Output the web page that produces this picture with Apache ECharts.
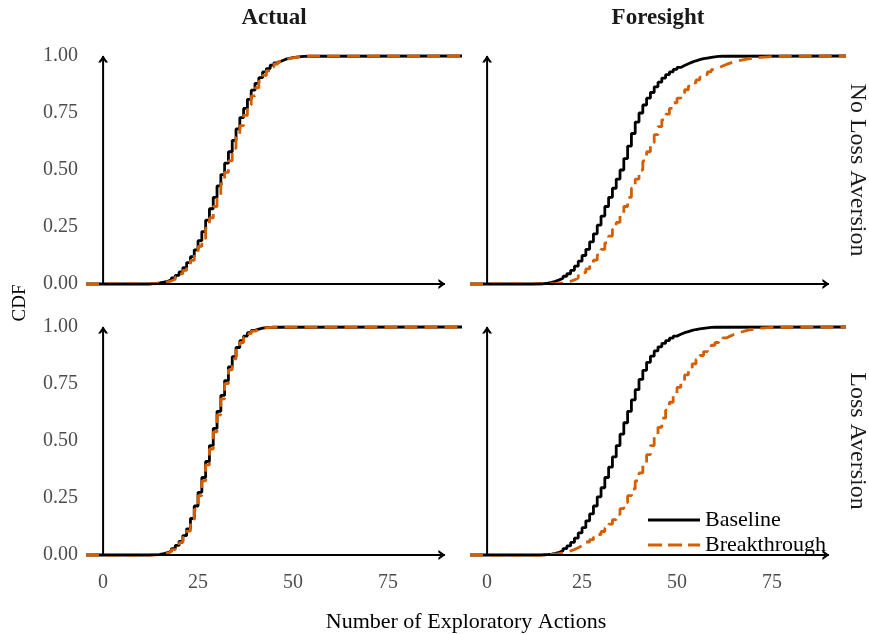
<!DOCTYPE html>
<html>
<head>
<meta charset="utf-8">
<script src="https://cdn.jsdelivr.net/npm/echarts@6/dist/echarts.min.js"></script>
<style>
  html, body { margin: 0; padding: 0; background: #ffffff; }
  #chart { width: 869px; height: 634px; }
</style>
</head>
<body>
<div id="chart"></div>
<script>
// ---- data (ECDF values at integer numbers of exploratory actions, starting at xStart) ----
const xStart = 12;
const xMin = -4.5, xMax = 94.5;
const xTicks = [0, 25, 50, 75];
const yTicks = [0, 0.25, 0.5, 0.75, 1];
const columnTitles = ['Actual', 'Foresight'];
const rowTitles = ['No Loss Aversion', 'Loss Aversion'];
const seriesNames = ['Baseline', 'Breakthrough'];

const actualNoLABaseline = [0.002,0.003,0.005,0.008,0.012,0.018,0.027,0.038,0.053,0.072,0.094,0.12,0.15,0.19,0.23,0.28,0.33,0.38,0.43,0.48,0.53,0.58,0.63,0.68,0.73,0.77,0.81,0.85,0.88,0.905,0.93,0.945,0.96,0.97,0.978,0.985,0.99,0.993,0.995,0.997,0.998,0.999,1.0];
const actualNoLABreakthrough = [0.001,0.002,0.004,0.006,0.009,0.014,0.021,0.031,0.044,0.06,0.08,0.104,0.132,0.165,0.2,0.245,0.29,0.34,0.39,0.44,0.49,0.54,0.595,0.645,0.695,0.74,0.785,0.825,0.86,0.89,0.915,0.935,0.952,0.965,0.975,0.983,0.988,0.992,0.995,0.997,0.998,0.999,1.0];
const foresightNoLABaseline = [0.001,0.001,0.002,0.004,0.007,0.012,0.018,0.025,0.034,0.045,0.06,0.078,0.1,0.125,0.152,0.185,0.22,0.258,0.298,0.34,0.38,0.42,0.46,0.5,0.55,0.605,0.66,0.71,0.75,0.785,0.815,0.84,0.865,0.885,0.903,0.918,0.93,0.941,0.95,0.958,0.966,0.973,0.979,0.984,0.988,0.991,0.994,0.996,0.998,0.999,1.0];
const foresightNoLABreakthrough = [0,0,0,0,0.001,0.002,0.003,0.005,0.008,0.012,0.018,0.026,0.037,0.05,0.066,0.085,0.105,0.128,0.152,0.18,0.21,0.24,0.27,0.305,0.34,0.38,0.42,0.46,0.5,0.54,0.58,0.62,0.655,0.69,0.72,0.745,0.77,0.795,0.815,0.835,0.852,0.868,0.882,0.895,0.907,0.918,0.93,0.94,0.948,0.956,0.963,0.969,0.974,0.978,0.982,0.985,0.988,0.99,0.992,0.994,0.995,0.996,0.997,0.998,0.998,0.999,0.999,0.999,1.0];
const actualLABaseline = [0.001,0.002,0.003,0.006,0.01,0.018,0.028,0.042,0.06,0.085,0.115,0.16,0.215,0.275,0.34,0.41,0.48,0.555,0.63,0.7,0.765,0.825,0.87,0.91,0.94,0.96,0.975,0.985,0.991,0.995,0.997,0.998,0.999,1.0];
const actualLABreakthrough = [0.001,0.001,0.002,0.005,0.008,0.015,0.024,0.037,0.054,0.077,0.105,0.148,0.2,0.26,0.325,0.395,0.465,0.54,0.615,0.685,0.752,0.812,0.86,0.9,0.932,0.955,0.971,0.982,0.989,0.994,0.996,0.998,0.999,1.0];
const foresightLABaseline = [0,0,0.001,0.002,0.004,0.007,0.012,0.019,0.028,0.04,0.055,0.074,0.097,0.12,0.15,0.18,0.215,0.255,0.295,0.34,0.385,0.43,0.48,0.53,0.58,0.63,0.68,0.725,0.77,0.81,0.845,0.872,0.895,0.913,0.928,0.94,0.951,0.96,0.968,0.975,0.98,0.985,0.989,0.992,0.994,0.996,0.998,0.999,1.0];
const foresightLABreakthrough = [0,0,0,0.001,0.002,0.004,0.006,0.009,0.013,0.018,0.024,0.032,0.04,0.048,0.057,0.067,0.078,0.09,0.103,0.118,0.135,0.155,0.178,0.203,0.23,0.26,0.29,0.325,0.36,0.4,0.44,0.48,0.52,0.56,0.6,0.635,0.67,0.705,0.735,0.763,0.79,0.815,0.838,0.858,0.875,0.892,0.907,0.92,0.932,0.943,0.952,0.96,0.967,0.973,0.978,0.983,0.987,0.99,0.993,0.995,0.996,0.997,0.998,0.998,0.999,0.999,1.0];

// panel order: top-left, top-right, bottom-left, bottom-right
const panelBaseline = [actualNoLABaseline, foresightNoLABaseline, actualLABaseline, foresightLABaseline];
const panelBreakthrough = [actualNoLABreakthrough, foresightNoLABreakthrough, actualLABreakthrough, foresightLABreakthrough];

// ---- styling ----
const FONT = 'Liberation Serif';
const BLACK = '#000000';
const ORANGE = '#D55E00';
const TICK_GREY = '#4D4D4D';

function toSteps(values) {
  const pts = [[xMin, 0]];
  values.forEach((v, i) => pts.push([xStart + i, v]));
  pts.push([xMax, 1]);
  return pts;
}

const gridLeft = [86, 470];
const gridTop = [44.6, 315.6];
const gridW = 376, gridH = 250.8;

const grids = [], xAxes = [], yAxes = [], series = [];
const arrowRight = 'path://M0,0 L10,5 L0,10 L0,7.4 L4.8,5 L0,2.6 Z';
const arrowUp = 'path://M0,10 L5,0 L10,10 L7.4,10 L5,5.2 L2.6,10 Z';

for (let p = 0; p < 4; p++) {
  const col = p % 2, row = Math.floor(p / 2);
  grids.push({ left: gridLeft[col], top: gridTop[row], width: gridW, height: gridH, containLabel: false });
  xAxes.push({
    type: 'value', gridIndex: p, min: xMin, max: xMax,
    axisLine: { show: false }, axisTick: { show: false }, splitLine: { show: false },
    axisLabel: {
      show: row === 1, customValues: xTicks, margin: 6,
      fontFamily: FONT, fontSize: 20, color: TICK_GREY
    }
  });
  yAxes.push({
    type: 'value', gridIndex: p, min: -0.05, max: 1.05,
    axisLine: { show: false }, axisTick: { show: false }, splitLine: { show: false },
    axisLabel: {
      show: col === 0, customValues: yTicks, margin: 8,
      fontFamily: FONT, fontSize: 20, color: TICK_GREY,
      formatter: v => v.toFixed(2)
    }
  });
  series.push({
    name: seriesNames[0], type: 'line', xAxisIndex: p, yAxisIndex: p,
    data: toSteps(panelBaseline[p]), step: 'end', symbol: 'none', showSymbol: false,
    lineStyle: { color: BLACK, width: 2.8, type: 'solid' }, itemStyle: { color: BLACK },
    silent: true, animation: false, z: 2
  });
  series.push({
    name: seriesNames[1], type: 'line', xAxisIndex: p, yAxisIndex: p,
    data: toSteps(panelBreakthrough[p]), step: 'end', symbol: 'none', showSymbol: false,
    lineStyle: { color: ORANGE, width: 2.8, type: [13, 7] }, itemStyle: { color: ORANGE },
    silent: true, animation: false, z: 3
  });
  // arrow axes
  series.push({
    name: 'xArrow' + p, type: 'line', xAxisIndex: p, yAxisIndex: p,
    data: [
      { value: [0, 0], symbol: 'none' },
      { value: [90, 0], symbol: arrowRight, symbolSize: [7, 10], symbolOffset: [-3, 0] }
    ],
    showSymbol: true, lineStyle: { color: BLACK, width: 2 }, itemStyle: { color: BLACK },
    silent: true, animation: false, z: 5
  });
  series.push({
    name: 'yArrow' + p, type: 'line', xAxisIndex: p, yAxisIndex: p,
    data: [
      { value: [0, 0], symbol: 'none' },
      { value: [0, 1], symbol: arrowUp, symbolSize: [10, 7], symbolOffset: [0, 3] }
    ],
    showSymbol: true, lineStyle: { color: BLACK, width: 2 }, itemStyle: { color: BLACK },
    silent: true, animation: false, z: 5
  });
}

const textFont = (size, weight) => (weight || 'normal') + ' ' + size + 'px "' + FONT + '"';

const graphic = [
  { type: 'text', x: 274, y: 18, style: { text: columnTitles[0], font: textFont(23, 'bold'), fill: '#1A1A1A', textAlign: 'center', textVerticalAlign: 'middle' } },
  { type: 'text', x: 658, y: 18, style: { text: columnTitles[1], font: textFont(23, 'bold'), fill: '#1A1A1A', textAlign: 'center', textVerticalAlign: 'middle' } },
  { type: 'text', x: 857, y: 170, rotation: -Math.PI / 2, style: { text: rowTitles[0], font: textFont(24), fill: '#1A1A1A', textAlign: 'center', textVerticalAlign: 'middle' } },
  { type: 'text', x: 857, y: 441, rotation: -Math.PI / 2, style: { text: rowTitles[1], font: textFont(24), fill: '#1A1A1A', textAlign: 'center', textVerticalAlign: 'middle' } },
  { type: 'text', x: 20, y: 303, rotation: Math.PI / 2, style: { text: 'CDF', font: textFont(19), fill: '#000000', textAlign: 'center', textVerticalAlign: 'middle' } },
  { type: 'text', x: 466, y: 622, style: { text: 'Number of Exploratory Actions', font: textFont(22), fill: '#000000', textAlign: 'center', textVerticalAlign: 'middle' } }
];

const solidIcon = 'path://M0,0 L52,0 L52,3 L0,3 Z';
const dashedIcon = 'path://M0,0 L14,0 L14,3 L0,3 Z M20,0 L34,0 L34,3 L20,3 Z M40,0 L52,0 L52,3 L40,3 Z';

const chart = echarts.init(document.getElementById('chart'), null, { renderer: 'canvas' });
chart.setOption({
  animation: false,
  backgroundColor: '#ffffff',
  grid: grids,
  xAxis: xAxes,
  yAxis: yAxes,
  legend: {
    data: [
      { name: seriesNames[0], icon: solidIcon, itemStyle: { color: BLACK } },
      { name: seriesNames[1], icon: dashedIcon, itemStyle: { color: ORANGE } }
    ],
    orient: 'vertical', left: 643, top: 504,
    itemWidth: 52, itemHeight: 3, itemGap: 3,
    textStyle: { fontFamily: FONT, fontSize: 22, color: '#000000' },
    selectedMode: false
  },
  graphic: graphic,
  series: series
});
</script>
</body>
</html>
